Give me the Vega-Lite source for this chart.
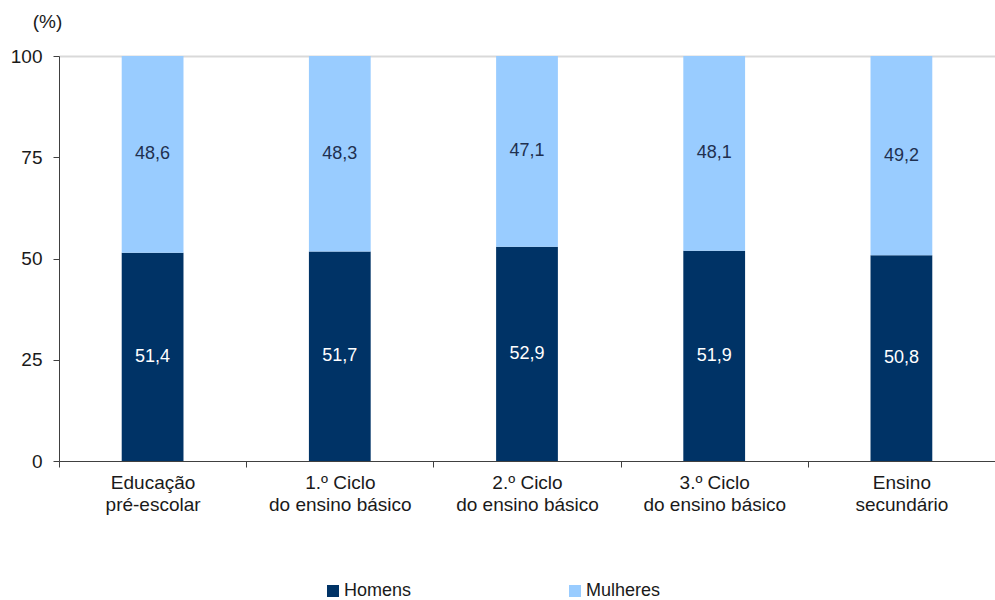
{
  "$schema": "https://vega.github.io/schema/vega-lite/v6.json",
  "width": 936,
  "height": 405,
  "autosize": {"type": "none"},
  "padding": {"left": 59, "top": 56, "right": 0, "bottom": 139},
  "background": "white",
  "config": {
    "font": "Liberation Sans",
    "view": {"stroke": null},
    "locale": {"number": {"decimal": ",", "thousands": ".", "grouping": [3], "currency": ["", " €"]}}
  },
  "data": {
    "values": [
      {"cat": "Educação|pré-escolar", "sexo": "Homens", "ord": 1, "value": 51.4},
      {"cat": "Educação|pré-escolar", "sexo": "Mulheres", "ord": 2, "value": 48.6},
      {"cat": "1.º Ciclo|do ensino básico", "sexo": "Homens", "ord": 1, "value": 51.7},
      {"cat": "1.º Ciclo|do ensino básico", "sexo": "Mulheres", "ord": 2, "value": 48.3},
      {"cat": "2.º Ciclo|do ensino básico", "sexo": "Homens", "ord": 1, "value": 52.9},
      {"cat": "2.º Ciclo|do ensino básico", "sexo": "Mulheres", "ord": 2, "value": 47.1},
      {"cat": "3.º Ciclo|do ensino básico", "sexo": "Homens", "ord": 1, "value": 51.9},
      {"cat": "3.º Ciclo|do ensino básico", "sexo": "Mulheres", "ord": 2, "value": 48.1},
      {"cat": "Ensino|secundário", "sexo": "Homens", "ord": 1, "value": 50.8},
      {"cat": "Ensino|secundário", "sexo": "Mulheres", "ord": 2, "value": 49.2}
    ]
  },
  "transform": [
    {"stack": "value", "groupby": ["cat"], "sort": [{"field": "ord", "order": "ascending"}], "as": ["v0", "v1"]},
    {"calculate": "(datum.v0 + datum.v1) / 2", "as": "mid"}
  ],
  "encoding": {
    "x": {
      "field": "cat",
      "type": "nominal",
      "sort": null,
      "scale": {"paddingInner": 0, "paddingOuter": 0},
      "axis": {
        "title": null,
        "labelAngle": 0,
        "labelExpr": "split(datum.label, '|')",
        "labelFontSize": 19,
        "labelLineHeight": 22,
        "labelColor": "#1a1a1a",
        "labelPadding": 6,
        "labelBaseline": "top",
        "tickBand": "extent",
        "tickSize": 6,
        "tickColor": "#404040",
        "domainColor": "#404040",
        "grid": false,
        "labelLimit": 300
      }
    }
  },
  "layer": [
    {
      "mark": {"type": "bar", "width": {"band": 0.33}},
      "encoding": {
        "y": {
          "field": "v0",
          "type": "quantitative",
          "scale": {"domain": [0, 100]},
          "axis": {
            "values": [0, 25, 50, 75, 100],
            "title": "(%)",
            "titleAngle": 0,
            "titleFontSize": 19,
            "titleFontWeight": "normal",
            "titleColor": "#1a1a1a",
            "titleAlign": "center",
            "titleBaseline": "middle",
            "titleX": -12,
            "titleY": -35,
            "labelFontSize": 19,
            "labelColor": "#1a1a1a",
            "labelPadding": 11,
            "tickSize": 6,
            "tickColor": "#404040",
            "domainColor": "#404040",
            "grid": true,
            "gridColor": {"condition": {"test": "datum.value === 100", "value": "#d9d9d9"}, "value": "transparent"},
            "gridWidth": 2
          }
        },
        "y2": {"field": "v1"},
        "color": {
          "field": "sexo",
          "type": "nominal",
          "scale": {"domain": ["Homens", "Mulheres"], "range": ["#003366", "#99ccff"]},
          "legend": {
            "title": null,
            "orient": "none",
            "direction": "horizontal",
            "legendX": 265,
            "legendY": 526,
            "symbolType": "square",
            "symbolSize": 144,
            "symbolStrokeWidth": 0,
            "symbolOpacity": 1,
            "labelFontSize": 18,
            "labelColor": "#1a1a1a",
            "labelOffset": 2,
            "columnPadding": 154
          }
        }
      }
    },
    {
      "mark": {"type": "text", "fontSize": 18, "baseline": "middle", "align": "center"},
      "encoding": {
        "y": {"field": "mid", "type": "quantitative"},
        "text": {"field": "value", "type": "quantitative", "format": ".1f"},
        "color": {
          "field": "sexo",
          "type": "nominal",
          "scale": {"domain": ["Homens", "Mulheres"], "range": ["#ffffff", "#1f3050"]},
          "legend": null
        }
      }
    }
  ],
  "resolve": {"scale": {"color": "independent"}}
}
